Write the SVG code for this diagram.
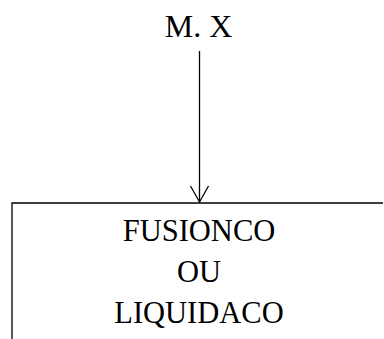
<svg xmlns="http://www.w3.org/2000/svg" width="384" height="339" viewBox="0 0 384 339">
<style>
text{font-family:"Liberation Serif","Times New Roman",serif;fill:#000;text-anchor:middle}
.ln{fill:none;stroke:#000;stroke-width:1.3}
</style>
<rect width="384" height="339" fill="#fff"/>
<g id="node-mx"><text x="198.5" y="36.5" font-size="32">M. X</text></g>
<g id="node-box">
<path class="ln" d="M12 339 V203 H383"/>
<text x="199" y="241" font-size="30.5">FUSIONCO</text>
<text x="199" y="282" font-size="30.5">OU</text>
<text x="199" y="323" font-size="30.5">LIQUIDACO</text>
</g>
<g id="connectors">
<path class="ln" d="M199.5 51 V202"/>
<path class="ln" d="M190.5 186 L199.5 202 L208.5 186"/>
</g>
</svg>
